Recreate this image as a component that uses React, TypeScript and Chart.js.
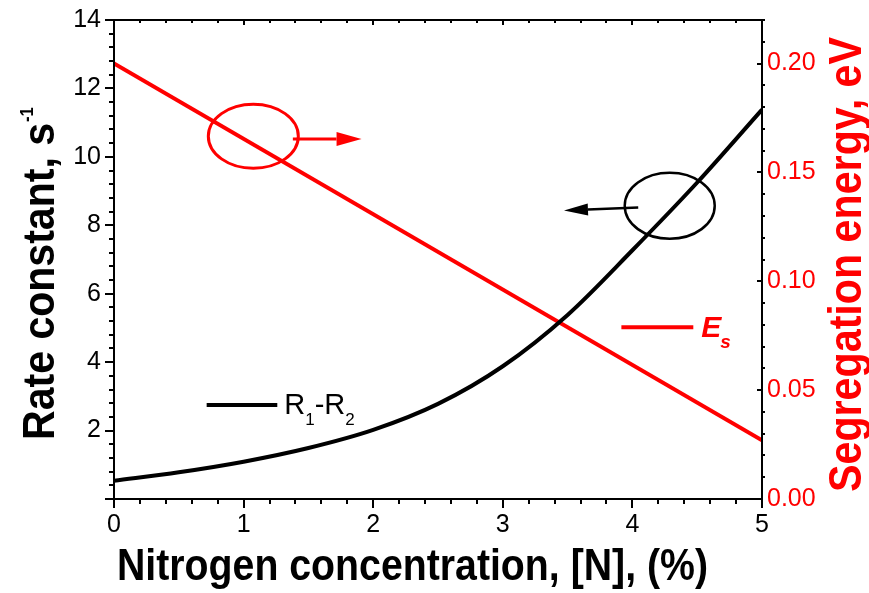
import React, { useEffect, useRef } from 'react';
import { Chart, registerables } from 'chart.js';

Chart.register(...registerables);

// ---- data ----
const nitrogen = [0, 0.5, 1, 1.5, 2, 2.5, 3, 3.5, 4, 4.5, 5];
const rateConstant = [0.53, 0.78, 1.09, 1.49, 2.02, 2.78, 3.88, 5.38, 7.27, 9.25, 11.38];
const esNitrogen = [0, 5];
const segregationEnergy = [0.2, 0.027];

const xTickValues = [0, 1, 2, 3, 4, 5];
const yTickLabels = ['', '2', '4', '6', '8', '10', '12', '14'];
const y1TickLabels = ['0.00', '0.05', '0.10', '0.15', '0.20'];

const xTitle = 'Nitrogen concentration, [N], (%)';
const yTitle = 'Rate constant, s';
const yTitleSup = '-1';
const y1Title = 'Segregation energy, eV';
const seriesBlackName = ['R', '1', '-R', '2'];
const seriesRedName = ['E', 's'];

const FONT = "'Liberation Sans', Arial, Helvetica, sans-serif";
const RED = '#ff0000';

function seg(ctx: CanvasRenderingContext2D, x1: number, y1: number, x2: number, y2: number) {
  ctx.beginPath();
  ctx.moveTo(x1, y1);
  ctx.lineTo(x2, y2);
  ctx.stroke();
}

function arrow(ctx: CanvasRenderingContext2D, x1: number, y1: number, x2: number, y2: number, headLen: number, headHalf: number, width: number, color: string) {
  const ang = Math.atan2(y2 - y1, x2 - x1);
  const bx = x2 - Math.cos(ang) * headLen;
  const by = y2 - Math.sin(ang) * headLen;
  ctx.strokeStyle = color;
  ctx.fillStyle = color;
  ctx.lineWidth = width;
  seg(ctx, x1, y1, bx, by);
  ctx.beginPath();
  ctx.moveTo(x2, y2);
  ctx.lineTo(bx - Math.sin(ang) * headHalf, by + Math.cos(ang) * headHalf);
  ctx.lineTo(bx + Math.sin(ang) * headHalf, by - Math.cos(ang) * headHalf);
  ctx.closePath();
  ctx.fill();
}

const zeroPad = (s: any) => {
  s.paddingTop = 0;
  s.paddingBottom = 0;
  s.paddingLeft = 0;
  s.paddingRight = 0;
};

const decorPlugin = {
  id: 'decor',
  afterDraw(chart: any) {
    const ctx: CanvasRenderingContext2D = chart.ctx;
    const xs = chart.scales.x;
    const ys = chart.scales.y;
    const y1s = chart.scales.y1;
    const L = xs.left;
    const R = xs.right;
    const T = ys.top;
    const B = ys.bottom;
    ctx.save();
    ctx.setLineDash([]);
    ctx.globalAlpha = 1;

    // frame
    ctx.strokeStyle = '#000000';
    ctx.lineWidth = 2;
    seg(ctx, L, T, R, T);
    seg(ctx, L, B, R, B);
    seg(ctx, L, T, L, B);
    seg(ctx, R, T, R, B);

    // x ticks (bottom outward, top inward)
    for (let i = 0; i <= 25; i++) {
      const px = Math.round(xs.getPixelForValue(i * 0.2));
      const major = i % 5 === 0;
      seg(ctx, px, B, px, B + (major ? 9 : 5));
      seg(ctx, px, T, px, T + (major ? 5 : 3));
    }
    // left y ticks
    for (let i = 0; i <= 35; i++) {
      const py = Math.round(ys.getPixelForValue(i * 0.4));
      const major = i % 5 === 0;
      seg(ctx, L, py, L - (major ? 9 : 5), py);
    }
    // right y ticks
    for (let i = 0; i <= 22; i++) {
      const py = Math.round(y1s.getPixelForValue(i * 0.01));
      const major = i % 5 === 0;
      if (major) seg(ctx, R, py, R - 5, py);
      else seg(ctx, R, py, R + 3, py);
    }

    // x title
    ctx.fillStyle = '#000';
    ctx.textBaseline = 'alphabetic';
    ctx.textAlign = 'left';
    ctx.font = `bold 45px ${FONT}`;
    {
      const w = ctx.measureText(xTitle).width;
      const sx = 591 / w;
      ctx.save();
      ctx.translate(117, 580);
      ctx.scale(sx, 1);
      ctx.fillText(xTitle, 0, 0);
      ctx.restore();
    }

    // left y title with superscript
    {
      ctx.font = `bold 44px ${FONT}`;
      const w1 = ctx.measureText(yTitle).width;
      ctx.font = `bold 18px ${FONT}`;
      const w2 = ctx.measureText(yTitleSup).width;
      const sx = 332 / (w1 + w2);
      ctx.save();
      ctx.translate(54, 440);
      ctx.rotate(-Math.PI / 2);
      ctx.scale(sx, 1);
      ctx.fillStyle = '#000';
      ctx.font = `bold 44px ${FONT}`;
      ctx.fillText(yTitle, 0, 0);
      ctx.font = `bold 18px ${FONT}`;
      ctx.fillText(yTitleSup, w1 + 1, -21);
      ctx.restore();
    }

    // right y title
    {
      ctx.font = `bold 47px ${FONT}`;
      const w = ctx.measureText(y1Title).width;
      const sx = 455 / w;
      ctx.save();
      ctx.translate(861, 492);
      ctx.rotate(-Math.PI / 2);
      ctx.scale(sx, 1);
      ctx.fillStyle = RED;
      ctx.fillText(y1Title, 0, 0);
      ctx.restore();
    }

    // red ellipse + arrow (points to right axis)
    {
      const cx = xs.getPixelForValue(1.075);
      const cy = y1s.getPixelForValue(0.1666);
      ctx.strokeStyle = RED;
      ctx.lineWidth = 3;
      ctx.beginPath();
      ctx.ellipse(cx, cy, 45, 32, 0, 0, Math.PI * 2);
      ctx.stroke();
      const ax1 = xs.getPixelForValue(1.38);
      const ax2 = xs.getPixelForValue(1.91);
      const ay = y1s.getPixelForValue(0.1653);
      arrow(ctx, ax1, ay, ax2, ay, 25, 7, 3, RED);
    }

    // black ellipse + arrow (points to left axis)
    {
      const cx = xs.getPixelForValue(4.288);
      const cy = ys.getPixelForValue(8.57);
      ctx.strokeStyle = '#000';
      ctx.lineWidth = 2.5;
      ctx.beginPath();
      ctx.ellipse(cx, cy, 45, 33, 0, 0, Math.PI * 2);
      ctx.stroke();
      const ax1 = xs.getPixelForValue(4.045);
      const ay1 = ys.getPixelForValue(8.52);
      const ax2 = xs.getPixelForValue(3.472);
      const ay2 = ys.getPixelForValue(8.43);
      arrow(ctx, ax1, ay1, ax2, ay2, 24, 6, 2.5, '#000');
    }

    // legend: black series
    {
      const lx1 = xs.getPixelForValue(0.715);
      const lx2 = xs.getPixelForValue(1.26);
      const ly = ys.getPixelForValue(2.75);
      ctx.strokeStyle = '#000';
      ctx.lineWidth = 4;
      seg(ctx, lx1, ly, lx2, ly);
      ctx.fillStyle = '#000';
      let tx = lx2 + 7;
      const base = ly + 9;
      ctx.font = `29px ${FONT}`;
      ctx.fillText(seriesBlackName[0], tx, base);
      tx += ctx.measureText(seriesBlackName[0]).width;
      ctx.font = `17px ${FONT}`;
      ctx.fillText(seriesBlackName[1], tx, base + 11);
      tx += ctx.measureText(seriesBlackName[1]).width;
      ctx.font = `29px ${FONT}`;
      ctx.fillText(seriesBlackName[2], tx, base);
      tx += ctx.measureText(seriesBlackName[2]).width;
      ctx.font = `17px ${FONT}`;
      ctx.fillText(seriesBlackName[3], tx, base + 11);
    }

    // legend: red series
    {
      const lx1 = xs.getPixelForValue(3.915);
      const lx2 = xs.getPixelForValue(4.47);
      const ly = y1s.getPixelForValue(0.0789);
      ctx.strokeStyle = RED;
      ctx.lineWidth = 4;
      seg(ctx, lx1, ly, lx2, ly);
      ctx.fillStyle = RED;
      let tx = lx2 + 8;
      const base = ly + 10;
      ctx.font = `italic bold 30px ${FONT}`;
      ctx.fillText(seriesRedName[0], tx, base);
      tx += ctx.measureText(seriesRedName[0]).width - 1;
      ctx.font = `italic bold 19px ${FONT}`;
      ctx.fillText(seriesRedName[1], tx, base + 11);
    }

    ctx.restore();
  },
};

export default function App() {
  const canvasRef = useRef<HTMLCanvasElement | null>(null);

  useEffect(() => {
    const canvas = canvasRef.current;
    if (!canvas) return;
    const chart = new Chart(canvas, {
      type: 'line',
      data: {
        datasets: [
          {
            label: 'R1-R2',
            data: nitrogen.map((x, i) => ({ x, y: rateConstant[i] })),
            borderColor: '#000',
            backgroundColor: '#000',
            borderWidth: 4,
            pointRadius: 0,
            cubicInterpolationMode: 'monotone',
            yAxisID: 'y',
          },
          {
            label: 'Es',
            data: esNitrogen.map((x, i) => ({ x, y: segregationEnergy[i] })),
            borderColor: RED,
            backgroundColor: RED,
            borderWidth: 4,
            pointRadius: 0,
            yAxisID: 'y1',
          },
        ],
      },
      options: {
        responsive: false,
        animation: false,
        devicePixelRatio: 1,
        layout: { padding: { top: 20, left: 0, right: 0, bottom: 0 } },
        plugins: { legend: { display: false }, tooltip: { enabled: false } },
        scales: {
          x: {
            type: 'linear',
            min: 0,
            max: 5,
            afterFit: (s: any) => { s.height = 94; zeroPad(s); },
            grid: { display: false, drawTicks: false },
            border: { display: true, color: '#000', width: 2 },
            ticks: {
              stepSize: 1,
              padding: 11,
              color: '#000',
              font: { family: FONT, size: 25 },
              callback: (v: any) => (xTickValues.includes(Number(v)) ? String(v) : ''),
            },
          },
          y: {
            type: 'linear',
            position: 'left',
            min: 0,
            max: 14,
            afterFit: (s: any) => { s.width = 114; zeroPad(s); },
            grid: { display: false, drawTicks: false },
            border: { display: true, color: '#000', width: 2 },
            ticks: {
              stepSize: 2,
              padding: 13,
              color: '#000',
              font: { family: FONT, size: 25 },
              callback: (v: any) => yTickLabels[Math.round(Number(v) / 2)] ?? '',
            },
          },
          y1: {
            type: 'linear',
            position: 'right',
            min: 0,
            max: 0.22,
            afterFit: (s: any) => { s.width = 107; zeroPad(s); },
            grid: { display: false, drawTicks: false },
            border: { display: true, color: '#000', width: 2 },
            ticks: {
              stepSize: 0.05,
              includeBounds: false,
              padding: 5,
              color: RED,
              font: { family: FONT, size: 25 },
              callback: (v: any) => y1TickLabels[Math.round(Number(v) / 0.05)] ?? '',
            },
          },
        },
      },
      plugins: [decorPlugin],
    } as any);
    return () => chart.destroy();
  }, []);

  return (
    <div style={{ position: 'absolute', left: 0, top: 0, width: 869, height: 593, background: '#fff' }}>
      <canvas ref={canvasRef} width={869} height={593} style={{ display: 'block' }} />
    </div>
  );
}
